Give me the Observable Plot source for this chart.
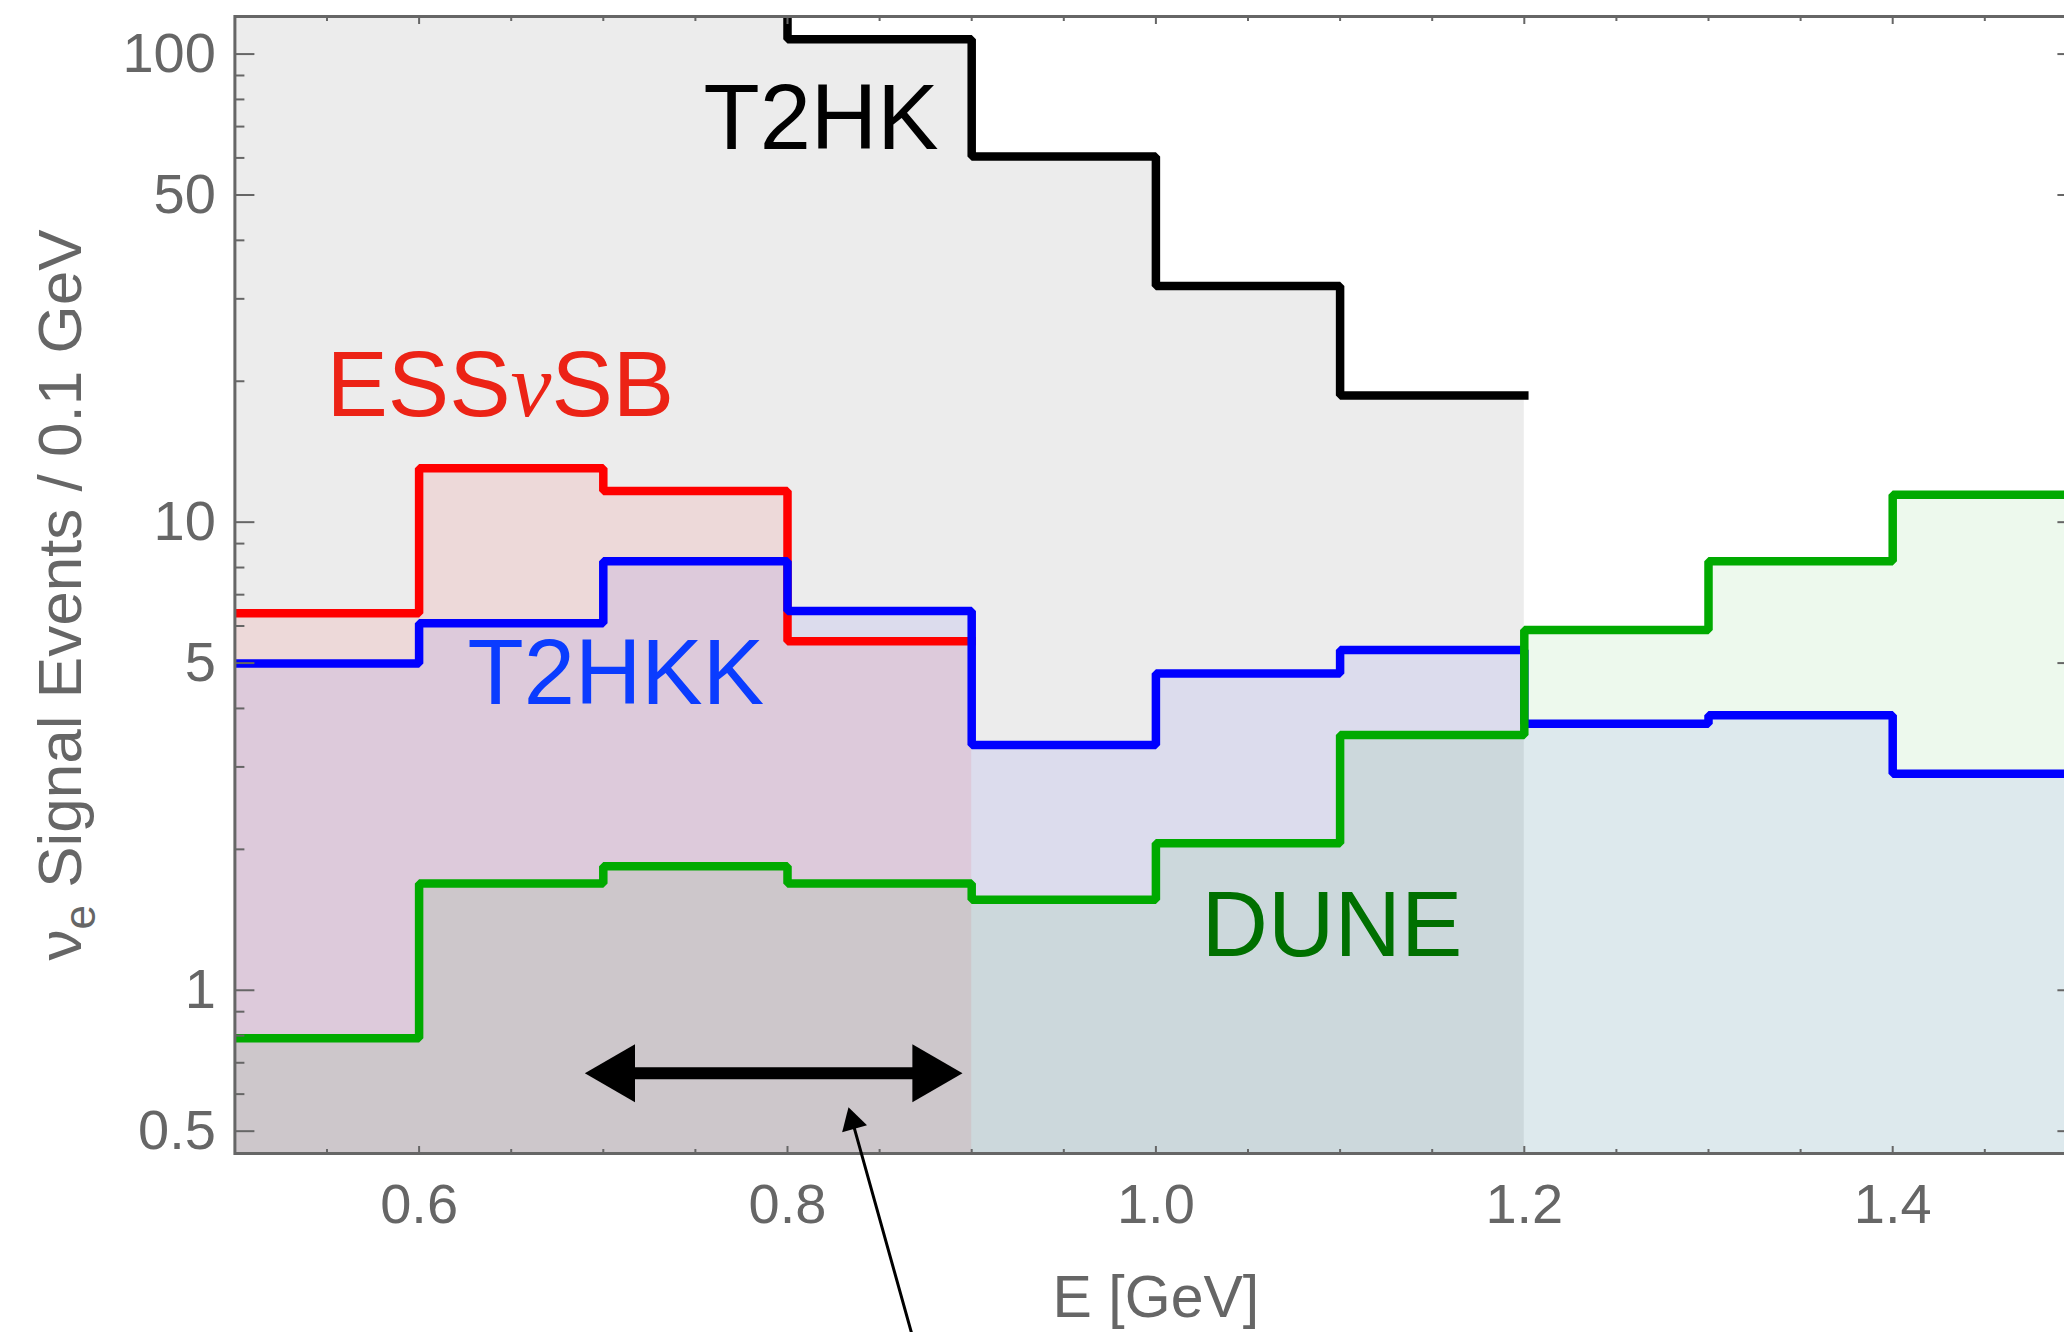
<!DOCTYPE html>
<html>
<head>
<meta charset="utf-8">
<script src="https://cdn.jsdelivr.net/npm/d3@7"></script>
<script src="https://cdn.jsdelivr.net/npm/@observablehq/plot@0.6"></script>
<style>
  html, body { margin: 0; padding: 0; background: #ffffff; overflow: hidden; }
  #chart svg { display: block; }
</style>
</head>
<body>
<div id="chart"></div>
<script>
// ---- data (events per 0.1 GeV bin, bins start at 0.5 GeV) ----
const binStart = 0.5;
const binWidth = 0.1;
const t2hk    = [140, 175, 165, 107.6, 60.4, 31.95, 18.65];          // 0.5 – 1.2 GeV (first three off-scale)
const essnusb = [6.39, 13.04, 11.65, 5.57];                          // 0.5 – 0.9 GeV
const t2hkk   = [4.99, 6.08, 8.25, 6.46, 3.34, 4.75, 5.33, 3.71, 3.87, 2.90]; // 0.5 – 1.5 GeV
const dune    = [0.79, 1.69, 1.84, 1.69, 1.56, 2.06, 3.51, 5.88, 8.25, 11.44]; // 0.5 – 1.5 GeV

const yMajor = [0.5, 1, 5, 10, 50, 100];
const yMinor = [0.6, 0.7, 0.8, 0.9, 2, 3, 4, 6, 7, 8, 9, 20, 30, 40, 60, 70, 80, 90];
const xMajor = [0.6, 0.8, 1.0, 1.2, 1.4];
const xMinor = [0.55, 0.65, 0.7, 0.75, 0.85, 0.9, 0.95, 1.05, 1.1, 1.15, 1.25, 1.3, 1.35, 1.45];
const xDomain = [0.5, 1.5];
const yDomain = [0.448, 120.3];

const xTitle = "E [GeV]";
const yTitle = "νe Signal Events / 0.1 GeV";

// ---- helpers ----
function steps(vals) {
  const pts = vals.map((v, i) => ({x: +(binStart + i * binWidth).toFixed(2), y: v}));
  pts.push({x: +(binStart + vals.length * binWidth).toFixed(2), y: vals[vals.length - 1]});
  return pts;
}

const series = [
  {values: t2hk,    stroke: "#000000", fill: "#000000", alpha: 0.075},
  {values: essnusb, stroke: "#ff0000", fill: "#ff0000", alpha: 0.079},
  {values: t2hkk,   stroke: "#0000ff", fill: "#0000ff", alpha: 0.066},
  {values: dune,    stroke: "#00aa00", fill: "#00a500", alpha: 0.072}
];

const font = "'Liberation Sans', Arial, Helvetica, sans-serif";
const gray = "#666666";

const fills = series.map(s => Plot.areaY(steps(s.values), {
  x: "x", y1: yDomain[0], y2: "y", curve: "step-after",
  fill: s.fill, fillOpacity: s.alpha, clip: true
}));
const lines = series.map(s => Plot.line(steps(s.values), {
  x: "x", y: "y", curve: "step-after",
  stroke: s.stroke, strokeWidth: 8.5, strokeLinecap: "square", strokeLinejoin: "miter", clip: true
}));

const tickOpts = {tickFormat: () => "", label: null, stroke: gray, strokeWidth: 2};

// pointer arrow geometry (annotation)
const ptrAngle = -15.8;            // degrees clockwise from up
const ptrTip = 15;                 // centroid-to-tip distance of the head (px)
const rad = ptrAngle * Math.PI / 180;

const chart = Plot.plot({
  width: 2064,
  height: 1332,
  marginLeft: 234.4,
  marginRight: -12.4,
  marginTop: 16,
  marginBottom: 179,
  x: {domain: xDomain},
  y: {type: "log", domain: yDomain},
  style: {fontFamily: font, background: "#ffffff"},
  marks: [
    ...fills,
    ...lines,
    // inward ticks on all four sides
    Plot.axisY(yMajor, {anchor: "left", tickSize: -20, ...tickOpts}),
    Plot.axisY(yMinor, {anchor: "left", tickSize: -10, ...tickOpts}),
    Plot.axisY(yMajor, {anchor: "right", tickSize: -20, ...tickOpts}),
    Plot.axisY(yMinor, {anchor: "right", tickSize: -10, ...tickOpts}),
    Plot.axisX(xMajor, {anchor: "bottom", tickSize: -7, ...tickOpts}),
    Plot.axisX(xMinor, {anchor: "bottom", tickSize: -4, ...tickOpts}),
    Plot.axisX(xMajor, {anchor: "top", tickSize: -7, ...tickOpts}),
    Plot.axisX(xMinor, {anchor: "top", tickSize: -4, ...tickOpts}),
    // tick labels
    Plot.axisY(yMajor, {anchor: "left", tickSize: 0, tickPadding: 19, tickFormat: d => String(d),
      fontSize: 56, color: gray, label: null}),
    Plot.axisX(xMajor, {anchor: "bottom", tickSize: 0, tickPadding: 30, tickFormat: d => d.toFixed(1),
      fontSize: 56, color: gray, label: null}),
    Plot.frame({stroke: gray, strokeWidth: 3}),
    // axis titles
    Plot.text([xTitle], {text: d => d, frameAnchor: "bottom", dy: 163.6, lineAnchor: "bottom",
      fontSize: 59, fill: gray}),
    Plot.text([yTitle], {text: d => d, frameAnchor: "left", rotate: -90, dx: -154.4, dy: 10,
      lineAnchor: "bottom", textAnchor: "middle", fontSize: 62, fill: gray}),
    // series labels
    Plot.text(["T2HK"],   {text: d => d, x: 0.7544, y: 72.3, textAnchor: "start", lineAnchor: "middle", fontSize: 92, fill: "#000000"}),
    Plot.text(["ESSνSB"], {text: d => d, x: 0.5497, y: 19.44, textAnchor: "start", lineAnchor: "middle", fontSize: 92, fill: "#ec2316"}),
    Plot.text(["T2HKK"],  {text: d => d, x: 0.6263, y: 4.72, textAnchor: "start", lineAnchor: "middle", fontSize: 92, fill: "#0a3cff"}),
    Plot.text(["DUNE"],   {text: d => d, x: 1.0248, y: 1.369, textAnchor: "start", lineAnchor: "middle", fontSize: 92, fill: "#007000"}),
    // double-headed arrow
    Plot.arrow([0], {x1: 0.69, x2: 0.895, y1: 0.665, y2: 0.665, headLength: 0, inset: 30,
      stroke: "#000000", strokeWidth: 12}),
    Plot.dot([0], {x: 0.895, y: 0.665, symbol: "triangle", r: 21.5, rotate: 90, dx: -33.4,
      fill: "#000000", stroke: "none"}),
    Plot.dot([0], {x: 0.69, y: 0.665, symbol: "triangle", r: 21.5, rotate: -90, dx: 33.4,
      fill: "#000000", stroke: "none"}),
    // thin pointer arrow with filled head
    Plot.arrow([0], {x1: 0.8673, y1: 0.1855, x2: 0.8331, y2: 0.5627, headLength: 0, insetEnd: 10,
      stroke: "#000000", strokeWidth: 3}),
    Plot.dot([0], {x: 0.8331, y: 0.5627, symbol: "triangle", r: 9.6, rotate: ptrAngle,
      dx: -Math.sin(rad) * ptrTip, dy: Math.cos(rad) * ptrTip, fill: "#000000", stroke: "none"})
  ]
});

document.getElementById("chart").appendChild(chart);

// rich text: italic nu in ESSνSB, subscript e in the y title
const NS = "http://www.w3.org/2000/svg";
function tspan(txt, attrs) {
  const t = document.createElementNS(NS, "tspan");
  t.textContent = txt;
  for (const k in attrs) t.setAttribute(k, attrs[k]);
  return t;
}
chart.querySelectorAll("text").forEach(t => {
  if (t.textContent === "ESSνSB") {
    t.textContent = "";
    t.appendChild(tspan("ESS", {}));
    t.appendChild(tspan("ν", {"font-family": "'Liberation Serif', 'DejaVu Serif', serif", "font-style": "italic"}));
    t.appendChild(tspan("SB", {}));
  } else if (t.textContent === yTitle) {
    t.textContent = "";
    t.appendChild(tspan("ν", {}));
    t.appendChild(tspan("e", {"font-size": 44, dy: 14}));
    t.appendChild(tspan(" Signal Events / 0.1 GeV", {dy: -14}));
  }
});
</script>
</body>
</html>
